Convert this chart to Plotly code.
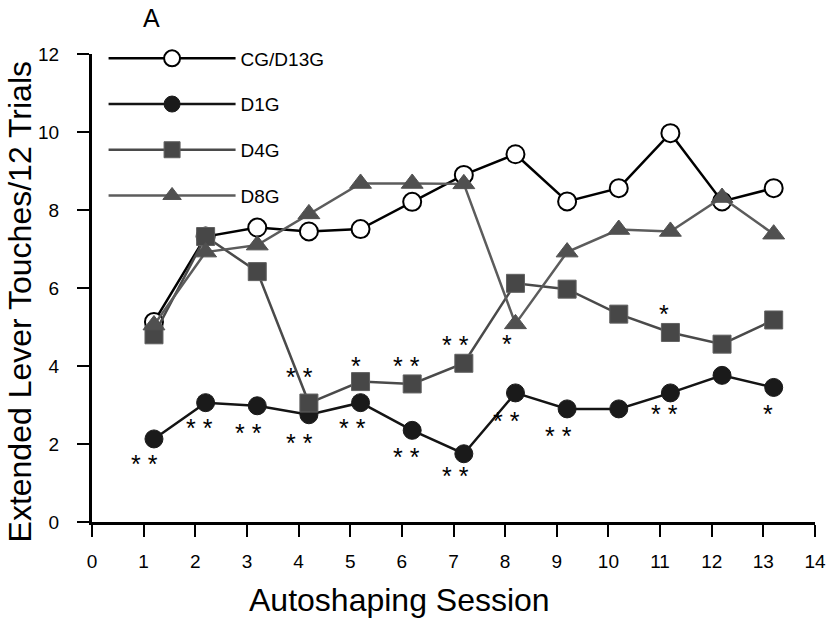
import plotly.graph_objects as go

# Autoshaping sessions and mean extended-lever touches per 12 trials
sessions = list(range(1, 14))
cg_d13g = [5.13, 7.32, 7.55, 7.45, 7.51, 8.21, 8.90, 9.43, 8.22, 8.56, 9.97, 8.22, 8.56]
d1g = [2.13, 3.06, 2.98, 2.75, 3.06, 2.35, 1.75, 3.31, 2.90, 2.90, 3.31, 3.76, 3.45]
d4g = [4.80, 7.32, 6.42, 3.05, 3.60, 3.54, 4.07, 6.12, 5.97, 5.33, 4.86, 4.56, 5.18]
d8g = [5.05, 6.92, 7.10, 7.90, 8.68, 8.68, 8.67, 5.08, 6.92, 7.50, 7.45, 8.32, 7.38]

x_ticks = list(range(0, 15))
y_ticks = list(range(0, 13, 2))

# significance marks: (series, session, stars, side)
sig_marks = [
    ("D1G", 1, "* *", "below"), ("D1G", 2, "* *", "below"), ("D1G", 3, "* *", "below"),
    ("D1G", 4, "* *", "below"), ("D1G", 5, "* *", "below"), ("D1G", 6, "* *", "below"),
    ("D1G", 7, "* *", "below"), ("D1G", 8, "* *", "below"), ("D1G", 9, "* *", "below"),
    ("D1G", 11, "* *", "below"), ("D1G", 13, "*", "below"),
    ("D4G", 4, "* *", "above"), ("D4G", 5, "*", "above"), ("D4G", 6, "* *", "above"),
    ("D4G", 7, "* *", "above"), ("D4G", 11, "*", "above"),
    ("D8G", 8, "*", "below"),
]

X_OFFSET = 0.2  # points sit just right of each session tick
xs = [s + X_OFFSET for s in sessions]

FONT = "Liberation Sans, Arial, sans-serif"

series = {
    "CG/D13G": dict(y=cg_d13g, line=dict(color="#000000", width=2.5),
                    marker=dict(symbol="circle", size=18, color="#ffffff",
                                line=dict(color="#000000", width=2))),
    "D1G": dict(y=d1g, line=dict(color="#141414", width=2.5),
                marker=dict(symbol="circle", size=18, color="#1a1a1a",
                            line=dict(color="#1a1a1a", width=1))),
    "D4G": dict(y=d4g, line=dict(color="#4a4a4a", width=2.5),
                marker=dict(symbol="square", size=18, color="#474747",
                            line=dict(color="#606060", width=1))),
    "D8G": dict(y=d8g, line=dict(color="#5c5c5c", width=2.5),
                marker=dict(symbol="triangle-up", size=19, color="#505050",
                            line=dict(color="#505050", width=1))),
}

fig = go.Figure()
for i, (name, spec) in enumerate(series.items()):
    fig.add_trace(go.Scatter(
        x=xs, y=spec["y"], name=name, mode="lines+markers",
        line=spec["line"], marker=spec["marker"],
        legendgroup=f"g{i}", cliponaxis=False,
    ))

# per-mark pixel nudges (dx, dy) for the star labels; dy positive = downward
nudges = {
    ("D1G", 1): (-9, 19), ("D1G", 2): (-6, 19), ("D1G", 3): (-9, 21),
    ("D1G", 4): (-9, 22), ("D1G", 5): (-8, 19), ("D1G", 6): (-6, 21),
    ("D1G", 7): (-8, 16), ("D1G", 8): (-9, 22), ("D1G", 9): (-9, 21),
    ("D1G", 11): (-6, 15), ("D1G", 13): (-6, 21),
    ("D4G", 4): (-9, -32), ("D4G", 5): (-5, -22), ("D4G", 6): (-6, -24),
    ("D4G", 7): (-8, -24), ("D4G", 11): (-6, -24),
    ("D8G", 8): (-8, 14),
}
lookup = {"CG/D13G": cg_d13g, "D1G": d1g, "D4G": d4g, "D8G": d8g}
annotations = []
for name, sess, stars, side in sig_marks:
    idx = sessions.index(sess)
    dx, dy = nudges[(name, sess)]
    annotations.append(dict(
        x=xs[idx], y=lookup[name][idx], xref="x", yref="y",
        text=stars, showarrow=False, xanchor="center", yanchor="middle",
        xshift=dx, yshift=-dy - 6,
        font=dict(family=FONT, size=25, color="#000000"),
    ))

# panel letter and axis titles
annotations.append(dict(x=0.0817, y=1.077, xref="paper", yref="paper", text="A",
                        showarrow=False, xanchor="center", yanchor="middle",
                        font=dict(family=FONT, size=25, color="#000000")))
annotations.append(dict(x=0.425, y=-0.167, xref="paper", yref="paper",
                        text="Autoshaping Session", showarrow=False,
                        xanchor="center", yanchor="middle",
                        font=dict(family=FONT, size=32, color="#000000")))
annotations.append(dict(x=-0.099, y=0.47, xref="paper", yref="paper",
                        text="Extended Lever Touches/12 Trials", showarrow=False,
                        textangle=-90, xanchor="center", yanchor="middle",
                        font=dict(family=FONT, size=32, color="#000000")))

axis_common = dict(
    showline=True, linewidth=3, linecolor="#000000", mirror=False,
    ticks="outside", ticklen=12, tickwidth=2, tickcolor="#000000",
    showgrid=False, zeroline=False, ticklabeloverflow="allow",
    tickfont=dict(family=FONT, size=19, color="#000000"),
)

fig.update_layout(
    width=835, height=626,
    margin=dict(l=92, r=9, t=54, b=104),
    paper_bgcolor="#ffffff", plot_bgcolor="#ffffff",
    xaxis=dict(range=[0, 14], tickvals=x_ticks, ticklabelstandoff=8, **axis_common),
    yaxis=dict(range=[0, 12], tickvals=y_ticks, ticklabelstandoff=14, **axis_common),
    showlegend=True,
    legend=dict(x=0.016, y=1.031, xanchor="left", yanchor="top",
                bgcolor="rgba(0,0,0,0)", itemwidth=127, tracegroupgap=18,
                font=dict(family=FONT, size=19, color="#000000")),
    annotations=annotations,
)

fig.write_html("out.html")
